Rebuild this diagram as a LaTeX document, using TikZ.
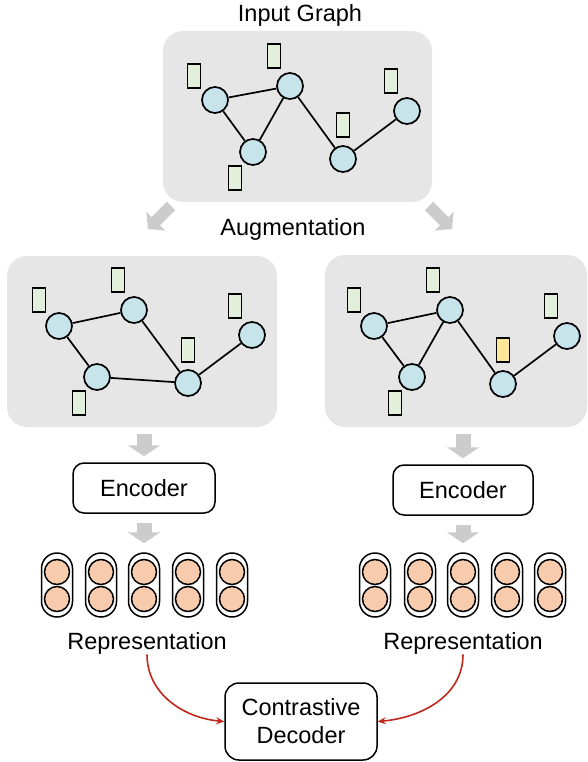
\documentclass[tikz,border=0pt]{standalone}
\usepackage{fontspec}
\setmainfont{Liberation Sans}
\usepackage{tikz}
\usetikzlibrary{arrows.meta}
\definecolor{boxgray}{RGB}{230,230,230}
\definecolor{nodeblue}{RGB}{200,228,235}
\definecolor{featgreen}{RGB}{226,239,218}
\definecolor{featyellow}{RGB}{255,230,153}
\definecolor{embpeach}{RGB}{248,203,173}
\definecolor{arrowgray}{RGB}{204,204,204}
\definecolor{decred}{RGB}{192,40,30}

\begin{document}
\begin{tikzpicture}[
    x=1pt, y=-1pt,
    every node/.style={font=\fontsize{23.5}{28}\selectfont},
    panel/.style={
        fill=boxgray,
        rounded corners=20pt,
        inner sep=0pt
    },
    vertex/.style={
        circle,
        draw,
        fill=nodeblue,
        line width=1.7pt,
        minimum size=26pt,
        inner sep=0pt
    },
    feat/.style={
        draw,
        fill=featgreen,
        line width=1.6pt,
        minimum width=13pt,
        minimum height=24pt,
        inner sep=0pt
    },
    link/.style={line width=1.7pt},
    module/.style={
        draw,
        rounded corners=11pt,
        line width=1.5pt,
        align=center,
        inner sep=0pt
    },
    capsule/.style={
        draw,
        rounded corners=15.5pt,
        line width=1.5pt,
        minimum width=31pt,
        minimum height=64pt,
        inner sep=0pt
    },
    emb/.style={
        circle,
        draw,
        fill=embpeach,
        line width=1.5pt,
        minimum size=25pt,
        inner sep=0pt
    },
    flow/.style={
        arrowgray,
        line width=15pt,
        -{Triangle[width=32pt,length=11pt]}
    },
    flowdiag/.style={
        arrowgray,
        line width=12pt,
        -{Triangle[width=26pt,length=11pt]}
    },
    contrast/.style={
        decred,
        line width=1.6pt,
        -{Stealth[length=8pt,width=7pt]}
    }
]
\useasboundingbox (0,0) rectangle (587,762);

% === Input graph ===
\node (title) at (300,15) {Input Graph};
\node[panel, minimum width=269pt, minimum height=171pt] (inbox) at (297.5,116.5) {};

\node[vertex] (g1) at (215,100) {};
\node[vertex] (g2) at (290,86) {};
\node[vertex] (g3) at (253,152) {};
\node[vertex] (g4) at (343,159) {};
\node[vertex] (g5) at (407,111) {};

\node[feat] (gf1) at (194,76) {};
\node[feat] (gf2) at (274,56) {};
\node[feat] (gf3) at (235,178) {};
\node[feat] (gf4) at (343,125) {};
\node[feat] (gf5) at (391,81) {};

\draw[link] (g1) -- (g2);
\draw[link] (g1) -- (g3);
\draw[link] (g3) -- (g2);
\draw[link] (g2) -- (g4);
\draw[link] (g4) -- (g5);

% === Augmentation ===
\node (augment) at (293,229) {Augmentation};
\coordinate (splitL) at (171,206);
\coordinate (tipL) at (148,229);
\coordinate (splitR) at (429,206);
\coordinate (tipR) at (452,229);
\draw[flowdiag] (splitL) -- (tipL);
\draw[flowdiag] (splitR) -- (tipR);

% === Left view ===
\node[panel, minimum width=270pt, minimum height=171pt] (viewL) at (142,341.5) {};

\node[vertex] (a1) at (59,326) {};
\node[vertex] (a2) at (134,310) {};
\node[vertex] (a3) at (97,377) {};
\node[vertex] (a4) at (188,383) {};
\node[vertex] (a5) at (252,335) {};

\node[feat] (af1) at (39,300) {};
\node[feat] (af2) at (118,280) {};
\node[feat] (af3) at (79,403) {};
\node[feat] (af4) at (188,350) {};
\node[feat] (af5) at (235,306) {};

\draw[link] (a1) -- (a2);
\draw[link] (a1) -- (a3);
\draw[link] (a3) -- (a4);
\draw[link] (a2) -- (a4);
\draw[link] (a4) -- (a5);

% === Right view ===
\node[panel, minimum width=262pt, minimum height=172pt] (viewR) at (456,341) {};

\node[vertex] (b1) at (374,326) {};
\node[vertex] (b2) at (450,310) {};
\node[vertex] (b3) at (412,377) {};
\node[vertex] (b4) at (503,384) {};
\node[vertex] (b5) at (567,336) {};

\node[feat] (bf1) at (354,300) {};
\node[feat] (bf2) at (433,280) {};
\node[feat] (bf3) at (395,403) {};
\node[feat, fill=featyellow] (bf4) at (503,350) {};
\node[feat] (bf5) at (551,306) {};

\draw[link] (b1) -- (b2);
\draw[link] (b1) -- (b3);
\draw[link] (b3) -- (b2);
\draw[link] (b2) -- (b4);
\draw[link] (b4) -- (b5);

% === Encoders ===
\node[module, minimum width=142pt, minimum height=50pt] (encL) at (144,488) {Encoder};
\node[module, minimum width=140pt, minimum height=50pt] (encR) at (463,490) {Encoder};

\draw[flow, shorten <=7pt, shorten >=6pt] (viewL.south -| encL) -- (encL.north);
\draw[flow, shorten <=7pt, shorten >=6pt] (viewR.south -| encR) -- (encR.north);

% === Representations ===
\foreach \x [count=\i] in {57,101,144,188,232} {
    \node[capsule] (capL\i) at (\x,585) {};
    \node[emb] (embL\i a) at (\x,572) {};
    \node[emb] (embL\i b) at (\x,599) {};
}
\foreach \x [count=\i] in {375,420,463,507,550} {
    \node[capsule] (capR\i) at (\x,585) {};
    \node[emb] (embR\i a) at (\x,572) {};
    \node[emb] (embR\i b) at (\x,599) {};
}

\draw[flow, shorten <=9pt, shorten >=9pt] (encL.south) -- (capL3.north);
\draw[flow, shorten <=9pt, shorten >=9pt] (encR.south) -- (capR3.north);

\node (repL) at (147,643) {Representation};
\node (repR) at (463,643) {Representation};

% === Contrastive decoder ===
\node[module, rounded corners=14pt, minimum width=152pt, minimum height=77pt] (dec) at (301,721.5)
{Contrastive\\Decoder};

\draw[contrast] (repL.south) ++(0,-3) to[out=-90, in=175] (dec.west);
\draw[contrast] (repR.south) ++(0,-3) to[out=-90, in=5] (dec.east);

\end{tikzpicture}
\end{document}
